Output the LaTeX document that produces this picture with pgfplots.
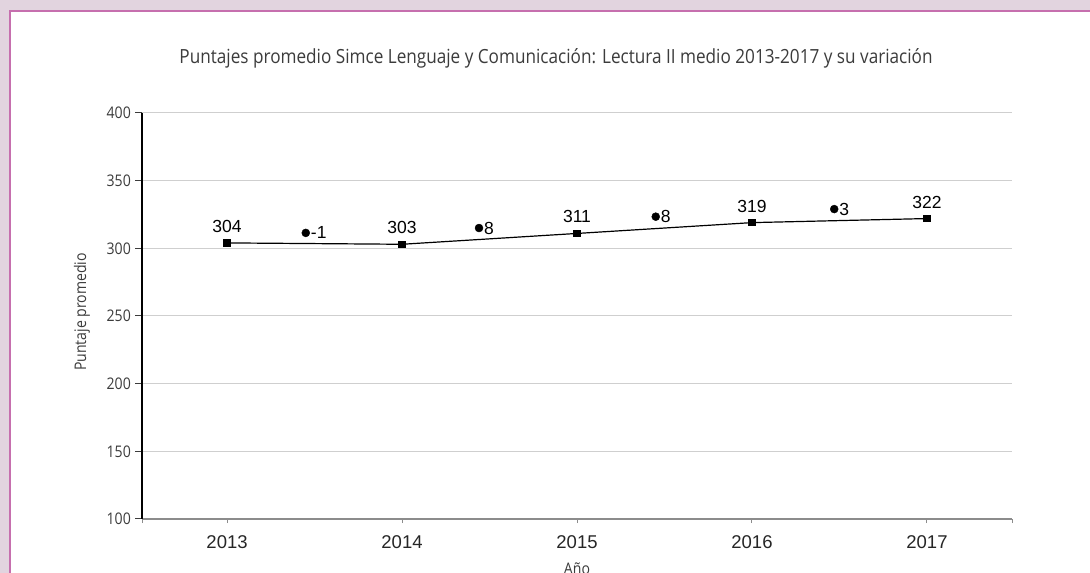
\documentclass[border=0pt]{standalone}
\usepackage{fontspec}
\usepackage{pgfplots}
\pgfplotsset{compat=1.18}
\setmainfont{Liberation Sans}
\newfontfamily\condf[FakeStretch=0.88]{Open Sans}
\newfontfamily\arialf{Liberation Sans}
\definecolor{bgpink}{HTML}{E2D4DF}
\definecolor{borderpink}{HTML}{C66FAE}
\definecolor{titlegray}{HTML}{3C3C3C}
\definecolor{gridgray}{HTML}{CFCFCF}
\definecolor{axisgray}{HTML}{8C8C8C}

\pgfplotstableread{
x y
0 304
1 303
2 311
3 319
4 322
}\mainseries

\pgfplotstableread{
x y label
0.45 311.4 -1
1.44 315 8
2.45 323.4 8
3.47 329 3
}\varseries

\begin{document}
\begin{tikzpicture}[x=1pt,y=1pt]
\useasboundingbox (0,0) rectangle (1090,573);
\clip (0,0) rectangle (1090,573);
\fill[bgpink] (0,0) rectangle (1090,573);
\draw[borderpink, line width=1.6pt, fill=white] (10,-10) rectangle (1100,562);
\node[font=\condf\fontsize{19.5}{22}\selectfont, text=titlegray, inner sep=0pt] at (556,515) {Puntajes promedio Simce Lenguaje y Comunicación: Lectura II medio 2013-2017 y su variación};
\node[rotate=90, font=\condf\fontsize{16}{18}\selectfont, text=titlegray, inner sep=0pt] at (82,261) {Puntaje promedio};
\node[font=\condf\fontsize{16}{18}\selectfont, text=titlegray, inner sep=0pt, anchor=north] at (577,10) {Año};
\begin{axis}[
  at={(142pt,54pt)}, anchor=south west,
  scale only axis, width=870pt, height=406pt,
  xmin=-0.486, xmax=4.486, ymin=100, ymax=400,
  enlargelimits=false,
  axis lines=left,
  axis line style={-},
  x axis line style={axisgray, line width=1.2pt},
  y axis line style={black, line width=1.2pt},
  ymajorgrids, grid style={gridgray, line width=1pt},
  tick align=outside,
  major tick length=7pt,
  xtick={-0.486,0,1,2,3,4,4.486},
  xticklabels={,2013,2014,2015,2016,2017,},
  ytick={100,150,...,400},
  xtick style={axisgray, line width=1pt, /pgfplots/major tick length=4pt},
  ytick style={titlegray, line width=1pt},
  /pgf/number format/assume math mode=true,
  yticklabel style={font=\condf\fontsize{16}{16}\selectfont, text=titlegray, inner sep=0pt},
  yticklabel shift=4pt,
  xticklabel style={font=\arialf\fontsize{18.5}{18.5}\selectfont, text=black!85, inner sep=0pt, anchor=north},
  xticklabel shift=9pt,
  clip=false,
]
\addplot[black, line width=1.2pt, mark=square*, mark size=3pt, mark options={solid},
  nodes near coords,
  nodes near coords style={font=\arialf\fontsize{17.5}{17.5}\selectfont, anchor=center, yshift=16.5pt, inner sep=0pt, text=black}]
  table[x=x, y=y] {\mainseries};
\addplot[only marks, mark=*, mark size=4pt, black,
  point meta=explicit symbolic,
  nodes near coords,
  nodes near coords style={font=\arialf\fontsize{17.5}{17.5}\selectfont, anchor=west, xshift=5pt, inner sep=0pt, text=black}]
  table[x=x, y=y, meta=label] {\varseries};
\end{axis}
\end{tikzpicture}
\end{document}
